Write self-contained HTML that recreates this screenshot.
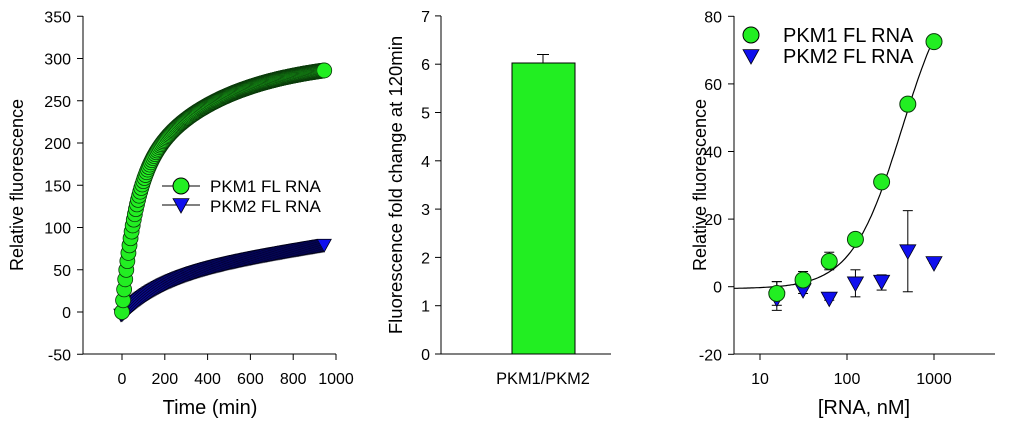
<!DOCTYPE html>
<html><head><meta charset="utf-8"><style>
body{margin:0;background:#fff}
svg{display:block;font-family:"Liberation Sans",sans-serif;fill:#000}
</style></head><body>
<svg id="s" width="1024" height="422" viewBox="0 0 1024 422">
<g stroke="#000" stroke-width="1" fill="none" id="axes">
<line x1="83" y1="16" x2="83" y2="354"/><line x1="83" y1="354" x2="336" y2="354"/>
<line x1="441" y1="16" x2="441" y2="354"/><line x1="441" y1="354" x2="611" y2="354"/>
<line x1="734" y1="16" x2="734" y2="354"/><line x1="734" y1="354" x2="995" y2="354"/>
</g>
<g id="g"></g>
<g font-size="16" text-anchor="end" id="t"></g>
<text x="210" y="414" font-size="20" text-anchor="middle">Time (min)</text>
<text x="543" y="384" font-size="16.4" text-anchor="middle">PKM1/PKM2</text>
<text x="864" y="414" font-size="20" text-anchor="middle">[RNA, nM]</text>
<text transform="translate(23,185) rotate(-90)" font-size="18" text-anchor="middle">Relative fluorescence</text>
<text transform="translate(402,185) rotate(-90)" font-size="18.5" text-anchor="middle">Fluorescence fold change at 120min</text>
<text transform="translate(706,185) rotate(-90)" font-size="18" text-anchor="middle">Relative fluorescence</text>
<text x="210" y="192" font-size="17">PKM1 FL RNA</text>
<text x="210" y="212" font-size="17">PKM2 FL RNA</text>
<text x="783" y="42" font-size="20">PKM1 FL RNA</text>
<text x="783" y="63" font-size="20">PKM2 FL RNA</text>
</svg>
<script>
var g=document.getElementById('g'),t=document.getElementById('t'),h='',tt='';
for(var v=-50;v<=350;v+=50){var y=312-v*42.25/50;h+='<line x1="77" y1="'+y+'" x2="83" y2="'+y+'" stroke="#000"/>';tt+='<text x="71" y="'+(y+6)+'">'+v+'</text>';}
for(var v=0;v<=1000;v+=200){var x=122+v*0.214;h+='<line x1="'+x+'" y1="354" x2="'+x+'" y2="360" stroke="#000"/>';tt+='<text x="'+x+'" y="384" text-anchor="middle">'+v+'</text>';}
function X1(v){return 122+v*0.214}function Y1(v){return 312-v*0.845}
var tri=function(x,y,r){return '<path d="M'+(x-r)+' '+(y-r*0.8)+'L'+(x+r)+' '+(y-r*0.8)+'L'+x+' '+(y+r)+'Z" fill="#1010ee" stroke="#000018" stroke-width="0.8"/>'};
for(var tm=-5;tm<=945;tm+=5){var v=45*(1-Math.exp(-Math.max(tm,0)/200))+0.04*tm-3;h+=tri(X1(tm),Y1(v),7);}
for(var tm=0;tm<=945;tm+=5){var v=150*(1-Math.exp(-tm/60))+150*(1-Math.exp(-tm/400));h+='<circle cx="'+X1(tm)+'" cy="'+Y1(v)+'" r="7.5" fill="#22ee22" stroke="#0a3a0a" stroke-width="0.8"/>';}
h+='<line x1="162" y1="186" x2="200" y2="186" stroke="#000"/><circle cx="181" cy="186" r="8" fill="#22ee22" stroke="#000"/>';
h+='<line x1="162" y1="205" x2="200" y2="205" stroke="#000"/>'+tri(181,205,8);
for(var v=0;v<=7;v++){var y=354-v*48.3;h+='<line x1="435" y1="'+y+'" x2="441" y2="'+y+'" stroke="#000"/>';tt+='<text x="430" y="'+(y+6)+'">'+v+'</text>';}
h+='<line x1="543" y1="63" x2="543" y2="54.5" stroke="#000"/><line x1="537" y1="54.5" x2="549" y2="54.5" stroke="#000"/>';
h+='<rect x="512" y="63" width="63" height="291" fill="#22ee22" stroke="#000"/>';
function Y3(v){return 286.7-v*3.38}function X3(c){return 760+(Math.log10(c)-1)*87}
for(var v=-20;v<=80;v+=20){var y=Y3(v);h+='<line x1="728" y1="'+y+'" x2="734" y2="'+y+'" stroke="#000"/>';tt+='<text x="722" y="'+(y+6)+'">'+v+'</text>';}
[10,100,1000].forEach(function(c){var x=X3(c);h+='<line x1="'+x+'" y1="354" x2="'+x+'" y2="360" stroke="#000"/>';tt+='<text x="'+x+'" y="384" text-anchor="middle">'+c+'</text>';});
var d='';for(var l=0.7;l<=3.001;l+=0.02){var c=Math.pow(10,l),r=Math.pow(c/430,1.5);var v=95*r/(1+r)-0.6;d+=(d?'L':'M')+X3(c).toFixed(1)+' '+Y3(v).toFixed(1);}
h+='<path d="'+d+'" fill="none" stroke="#000" stroke-width="1.2"/>';
var cs=[15.6,31.25,62.5,125,250,500,1000];
function eb(x,a,b){return '<line x1="'+x+'" y1="'+Y3(a)+'" x2="'+x+'" y2="'+Y3(b)+'" stroke="#000"/><line x1="'+(x-5)+'" y1="'+Y3(a)+'" x2="'+(x+5)+'" y2="'+Y3(a)+'" stroke="#000"/><line x1="'+(x-5)+'" y1="'+Y3(b)+'" x2="'+(x+5)+'" y2="'+Y3(b)+'" stroke="#000"/>';}
var p2=[-3.5,-1,-3.5,1,1.5,10.5,7],e2=[[-7,1.5],[-2,0.5],[-4,-2.5],[-3,5],[-1,3.5],[-1.5,22.5],[7,7]];
var p1=[-2,2,7.5,14,31,54,72.5],e1=[[-5.5,1.5],[0,4.5],[5,10.2],[14,14],[31,31],[54,54],[72.5,72.5]];
cs.forEach(function(c,i){var x=X3(c);h+=eb(x,e1[i][0],e1[i][1])+eb(x,e2[i][0],e2[i][1]);});
cs.forEach(function(c,i){h+=tri(X3(c),Y3(p2[i]),8);});
cs.forEach(function(c,i){h+='<circle cx="'+X3(c)+'" cy="'+Y3(p1[i])+'" r="8" fill="#22ee22" stroke="#0a3a0a"/>';});
h+='<circle cx="751" cy="35" r="8" fill="#22ee22" stroke="#000"/>'+tri(751,56,8);
g.innerHTML=h;t.innerHTML=tt;
</script>
</body></html>
